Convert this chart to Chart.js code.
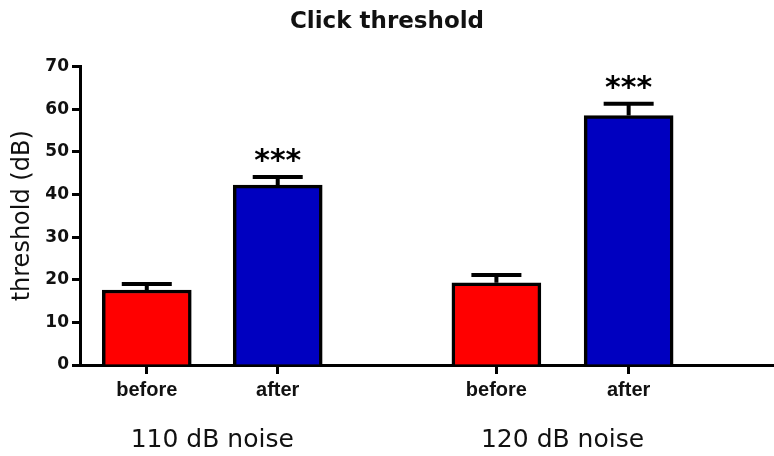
<!DOCTYPE html>
<html lang="en">
<head>
    <meta charset="UTF-8">
    <title>Click threshold</title>
    <script src="https://cdn.jsdelivr.net/npm/chart.js"></script>
    <style>
        body {
            margin: 0;
            padding: 0;
            background: white;
        }
        .chart {
            width: 774px;
            height: 456px;
            position: relative;
        }
    </style>
</head>
<body>
    <div class="chart">
        <canvas id="clickChart"></canvas>
    </div>
    <script>
        // data
        var groups = ['110 dB noise', '120 dB noise'];
        var conditions = ['before', 'after', 'before', 'after'];
        var positions = [1, 2, 3.67, 4.68];
        var means = [17.6, 42.2, 19.3, 58.5];
        var sems = [1.4, 1.9, 1.8, 2.8];
        var stars = ['', '***', '', '***'];
        var yTicks = [0, 10, 20, 30, 40, 50, 60, 70];

        var barColors = conditions.map(function(c) {
            return c == 'before' ? '#ff0000' : '#0000c0';
        });

        // error bars, stars and group labels
        var extras = {
            id: 'extras',
            afterDatasetsDraw: function(chart) {
                var ctx = chart.ctx;
                var yScale = chart.scales.y;
                var bars = chart.getDatasetMeta(0).data;
                ctx.save();
                ctx.strokeStyle = 'black';
                ctx.lineWidth = 4;
                bars.forEach(function(bar, i) {
                    var capY = yScale.getPixelForValue(means[i] + sems[i]);
                    ctx.beginPath();
                    ctx.moveTo(bar.x, bar.y);
                    ctx.lineTo(bar.x, capY);
                    ctx.moveTo(bar.x - 25, capY);
                    ctx.lineTo(bar.x + 25, capY);
                    ctx.stroke();
                    if (stars[i]) {
                        ctx.fillStyle = 'black';
                        ctx.font = 'bold 30px "DejaVu Sans"';
                        ctx.textAlign = 'center';
                        ctx.textBaseline = 'alphabetic';
                        ctx.fillText(stars[i], bar.x, capY - 7);
                    }
                });
                ctx.fillStyle = '#111';
                ctx.font = '25px "DejaVu Sans"';
                ctx.textAlign = 'center';
                ctx.textBaseline = 'alphabetic';
                groups.forEach(function(g, k) {
                    var x = (bars[k * 2].x + bars[k * 2 + 1].x) / 2;
                    ctx.fillText(g, x, 447);
                });
                ctx.restore();
            }
        };

        new Chart(document.getElementById('clickChart'), {
            type: 'bar',
            data: {
                datasets: [{
                    data: positions.map(function(p, i) {
                        return { x: p, y: means[i] };
                    }),
                    backgroundColor: barColors,
                    borderColor: 'black',
                    borderWidth: 3.5,
                    borderSkipped: 'bottom',
                    barThickness: 89
                }]
            },
            options: {
                responsive: true,
                maintainAspectRatio: false,
                animation: false,
                layout: { padding: 0 },
                plugins: {
                    legend: { display: false },
                    tooltip: { enabled: false },
                    title: {
                        display: true,
                        text: 'Click threshold',
                        color: '#111',
                        font: { family: 'DejaVu Sans', size: 23, weight: 'bold' },
                        padding: { top: 8, bottom: 31 }
                    }
                },
                scales: {
                    x: {
                        type: 'linear',
                        min: 0.49,
                        max: 5.79,
                        offset: false,
                        afterBuildTicks: function(scale) {
                            scale.ticks = positions.map(function(p) { return { value: p }; });
                        },
                        afterFit: function(scale) {
                            scale.height = 91;
                        },
                        ticks: {
                            autoSkip: false,
                            maxRotation: 0,
                            padding: 4,
                            color: '#111',
                            font: { family: 'Liberation Sans', size: 20, weight: 'bold' },
                            callback: function(value, index) {
                                return conditions[index];
                            }
                        },
                        grid: {
                            offset: false,
                            drawOnChartArea: false,
                            tickLength: 9,
                            tickColor: 'black',
                            tickWidth: 3
                        },
                        border: { color: 'black', width: 3 }
                    },
                    y: {
                        min: 0,
                        max: 70,
                        afterBuildTicks: function(scale) {
                            scale.ticks = yTicks.map(function(v) { return { value: v }; });
                        },
                        afterFit: function(scale) {
                            scale.width = 80;
                        },
                        ticks: {
                            padding: 3,
                            color: '#111',
                            font: { family: 'DejaVu Sans', size: 17, weight: 'bold' }
                        },
                        grid: {
                            drawOnChartArea: false,
                            tickLength: 8,
                            tickColor: 'black',
                            tickWidth: 3
                        },
                        border: { color: 'black', width: 3 },
                        title: {
                            display: true,
                            text: 'threshold (dB)',
                            color: '#111',
                            font: { family: 'DejaVu Sans', size: 24 },
                            padding: { top: 8 }
                        }
                    }
                }
            },
            plugins: [extras]
        });
    </script>
</body>
</html>
